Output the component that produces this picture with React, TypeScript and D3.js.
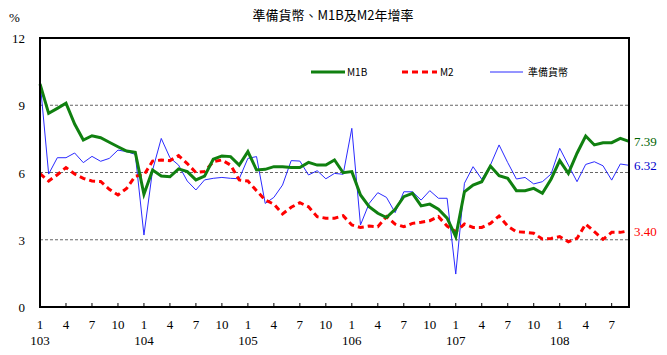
import React from "react";
import * as d3 from "d3";

const m1b = [9.95, 8.64, 8.86, 9.09, 8.16, 7.45, 7.64, 7.55, 7.35, 7.15, 6.96, 6.9,
  5.03, 6.11, 5.84, 5.81, 6.16, 6.04, 5.67, 5.84, 6.59, 6.74, 6.71, 6.33,
  6.93, 6.11, 6.14, 6.26, 6.26, 6.22, 6.22, 6.45, 6.33, 6.33, 6.56, 5.99,
  6.04, 5.0, 4.48, 4.18, 3.99, 4.36, 4.92, 5.07, 4.51, 4.59, 4.36, 3.96,
  3.14, 5.14, 5.44, 5.59, 6.29, 5.86, 5.74, 5.19, 5.19, 5.29, 5.07, 5.7,
  6.53, 5.96, 6.86, 7.63, 7.23, 7.33, 7.33, 7.52, 7.39];
const m2 = [5.95, 5.62, 5.9, 6.22, 5.93, 5.74, 5.62, 5.6, 5.25, 5.0, 5.29, 5.84,
  5.89, 6.51, 6.56, 6.53, 6.75, 6.4, 6.0, 6.04, 6.48, 6.56, 6.33, 5.67,
  5.62, 5.19, 4.77, 4.59, 4.15, 4.45, 4.65, 4.47, 4.03, 3.96, 3.96, 4.07,
  3.66, 3.55, 3.61, 3.58, 4.03, 3.7, 3.58, 3.73, 3.78, 3.85, 4.03, 3.61,
  3.36, 3.7, 3.55, 3.55, 3.73, 4.06, 3.61, 3.36, 3.33, 3.29, 3.03, 3.06,
  3.14, 2.91, 3.06, 3.7, 3.36, 3.02, 3.33, 3.33, 3.4];
const reserve = [10.1, 5.93, 6.66, 6.66, 6.87, 6.44, 6.72, 6.5, 6.63, 7.0, 6.93, 6.81,
  3.21, 6.11, 7.52, 6.66, 6.33, 5.62, 5.22, 5.67, 5.74, 5.78, 5.74, 5.72,
  6.63, 6.71, 4.62, 4.89, 5.44, 6.53, 6.51, 5.89, 6.08, 5.72, 5.96, 5.92,
  7.97, 3.66, 4.62, 5.1, 4.89, 4.21, 5.14, 5.14, 4.77, 5.19, 4.85, 4.85,
  1.47, 5.52, 6.26, 5.7, 6.33, 7.23, 6.44, 5.71, 5.78, 5.49, 5.59, 5.93,
  7.08, 6.33, 5.59, 6.36, 6.48, 6.3, 5.66, 6.38, 6.32];
const years = [103, 104, 105, 106, 107, 108];
const yTicks = [0, 3, 6, 9, 12];
const monthTicks = [1, 4, 7, 10];

const L = 40, R = 629, T = 38, B = 307;

export default function App() {
  const x = d3.scaleLinear().domain([0, m1b.length - 1]).range([L, R]);
  const y = d3.scaleLinear().domain([0, 12]).range([B, T]);
  const line = d3.line<number>().x((_, i) => x(i)).y(d => y(d));
  const tickIdx: number[] = [];
  for (let i = 0; i < m1b.length; i++) {
    if (monthTicks.includes((i % 12) + 1)) tickIdx.push(i);
  }
  const serif = "'Liberation Serif', 'Times New Roman', serif";
  const cjk = "'Noto Sans CJK TC', sans-serif";
  const last = m1b.length - 1;
  return (
    <svg width={667} height={355} style={{ position: "absolute", left: 0, top: 0 }}>
      <rect x={0} y={0} width={667} height={355} fill="#fff" />
      <text x={333} y={20} textAnchor="middle" fontFamily={cjk} fontSize={13} fill="#000">
        準備貨幣、M1B及M2年增率
      </text>
      <text x={9} y={22} fontFamily={serif} fontSize={13} fill="#000">%</text>
      {yTicks.filter(v => v > 0 && v < 12).map(v => (
        <line key={v} x1={L} x2={R} y1={y(v)} y2={y(v)} stroke="#666" strokeWidth={1} strokeDasharray="3,2" />
      ))}
      {yTicks.map(v => (
        <text key={v} x={25} y={y(v) + 5} textAnchor="end" fontFamily={serif} fontSize={13} fill="#000">{v}</text>
      ))}
      {tickIdx.map(i => (
        <g key={i}>
          <line x1={x(i)} x2={x(i)} y1={B} y2={B - 4} stroke="#000" strokeWidth={1} />
          <text x={x(i)} y={329} textAnchor="middle" fontFamily={serif} fontSize={13} fill="#000">{(i % 12) + 1}</text>
        </g>
      ))}
      {years.map((yr, k) => (
        <text key={yr} x={x(k * 12)} y={345} textAnchor="middle" fontFamily={serif} fontSize={13} fill="#000">{yr}</text>
      ))}
      <path d={line(reserve) || ""} fill="none" stroke="#2b2bff" strokeWidth={1} />
      <path d={line(m2) || ""} fill="none" stroke="#ff0000" strokeWidth={3} strokeDasharray="6,4" />
      <path d={line(m1b) || ""} fill="none" stroke="#108010" strokeWidth={3} />
      <rect x={L} y={T} width={R - L} height={B - T} fill="none" stroke="#000" strokeWidth={2} />
      <g fontFamily={cjk} fontSize={10} fill="#000">
        <line x1={311} x2={345} y1={72} y2={72} stroke="#108010" strokeWidth={3} />
        <text x={347} y={76}>M1B</text>
        <line x1={402} x2={437} y1={72} y2={72} stroke="#ff0000" strokeWidth={3} strokeDasharray="6,4" />
        <text x={440} y={76}>M2</text>
        <line x1={490} x2={523} y1={72} y2={72} stroke="#2b2bff" strokeWidth={1} />
        <text x={528} y={76}>準備貨幣</text>
      </g>
      <text x={634} y={y(m1b[last]) + 5} fontFamily={serif} fontSize={13} fill="#006400">{m1b[last].toFixed(2)}</text>
      <text x={634} y={y(reserve[last]) + 5} fontFamily={serif} fontSize={13} fill="#0000cc">{reserve[last].toFixed(2)}</text>
      <text x={634} y={y(m2[last]) + 5} fontFamily={serif} fontSize={13} fill="#ff0000">{m2[last].toFixed(2)}</text>
    </svg>
  );
}
